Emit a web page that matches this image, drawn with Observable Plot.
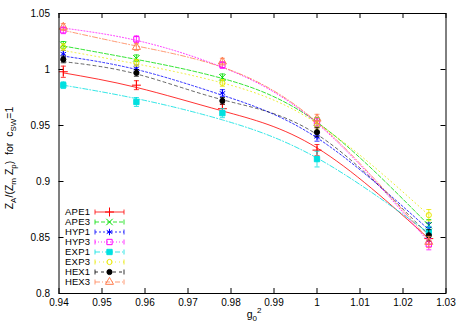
<!DOCTYPE html>
<html><head><meta charset="utf-8">
<script src="https://cdn.jsdelivr.net/npm/d3@7"></script>
<script src="https://cdn.jsdelivr.net/npm/@observablehq/plot@0.6"></script>
<style>body{margin:0;background:#fff} #c{position:relative;width:463px;height:324px}</style>
</head><body><div id="c"></div><script>
// ---- data ----
const g02 = [0.941, 0.958, 0.978, 1.0, 1.026];
const seriesNames = ["APE1","APE3","HYP1","HYP3","EXP1","EXP3","HEX1","HEX3"];
// measured points
const APE1 = [0.998, 0.986, 0.965, 0.928, 0.849];
const APE3 = [1.022, 1.010, 0.993, 0.953, 0.861];
const HYP1 = [1.014, 1.001, 0.979, 0.940, 0.858];
const HYP3 = [1.035, 1.027, 1.004, 0.952, 0.844];
const EXP1 = [0.986, 0.971, 0.961, 0.920, 0.855];
const EXP3 = [1.020, 1.006, 0.988, 0.950, 0.870];
const HEX1 = [1.009, 0.997, 0.972, 0.944, 0.852];
const HEX3 = [1.038, 1.020, 1.007, 0.956, 0.846];
// error bars
const errAPE1 = [0.005, 0.004, 0.004, 0.005, 0.005];
const errAPE3 = [0.003, 0.003, 0.003, 0.004, 0.005];
const errHYP1 = [0.003, 0.003, 0.003, 0.004, 0.005];
const errHYP3 = [0.003, 0.003, 0.003, 0.004, 0.005];
const errEXP1 = [0.003, 0.004, 0.004, 0.007, 0.005];
const errEXP3 = [0.003, 0.003, 0.003, 0.004, 0.005];
const errHEX1 = [0.003, 0.003, 0.003, 0.004, 0.005];
const errHEX3 = [0.003, 0.003, 0.003, 0.004, 0.005];
// fit curves at the same g0^2 values
const fitAPE1 = [0.997, 0.984, 0.963, 0.930, 0.849];
const fitAPE3 = [1.021, 1.009, 0.992, 0.953, 0.861];
const fitHYP1 = [1.012, 1.000, 0.977, 0.939, 0.857];
const fitHYP3 = [1.037, 1.026, 1.002, 0.952, 0.846];
const fitEXP1 = [0.986, 0.974, 0.955, 0.921, 0.854];
const fitEXP3 = [1.017, 1.005, 0.988, 0.952, 0.870];
const fitHEX1 = [1.007, 0.996, 0.973, 0.942, 0.852];
const fitHEX3 = [1.035, 1.021, 1.002, 0.953, 0.848];
const xTicks = [0.94,0.95,0.96,0.97,0.98,0.99,1.0,1.01,1.02,1.03];
const yTicks = [0.8,0.85,0.9,0.95,1.0,1.05];

const values = {APE1,APE3,HYP1,HYP3,EXP1,EXP3,HEX1,HEX3};
const errors = {APE1:errAPE1,APE3:errAPE3,HYP1:errHYP1,HYP3:errHYP3,EXP1:errEXP1,EXP3:errEXP3,HEX1:errHEX1,HEX3:errHEX3};
const fits = {APE1:fitAPE1,APE3:fitAPE3,HYP1:fitHYP1,HYP3:fitHYP3,EXP1:fitEXP1,EXP3:fitEXP3,HEX1:fitHEX1,HEX3:fitHEX3};

// ---- styles ----
const style = {
  APE1:{color:"#ff0000", symbol:"plus", filled:false, dash:null},
  APE3:{color:"#00dd00", symbol:"times", filled:false, dash:"4,2"},
  HYP1:{color:"#0000ff", symbol:"asterisk", filled:false, dash:"2,2"},
  HYP3:{color:"#ff00ff", symbol:"square", filled:false, dash:"1,2"},
  EXP1:{color:"#00e0e0", symbol:"square", filled:true, dash:"5,2,1,2"},
  EXP3:{color:"#e8e800", symbol:"circle", filled:false, dash:"1,3"},
  HEX1:{color:"#000000", symbol:"circle", filled:true, dash:"3,3"},
  HEX3:{color:"#ff7f50", symbol:"triangle", filled:false, dash:"5,2,1,2"}
};
const d3sym = {plus:d3.symbolPlus, times:d3.symbolTimes, asterisk:d3.symbolAsterisk, square:d3.symbolSquare, circle:d3.symbolCircle, triangle:d3.symbolTriangle};
const cap = {draw(ctx, size){ const r = Math.sqrt(size/Math.PI); ctx.moveTo(-r,0); ctx.lineTo(r,0); }};
const fmt = d => String(+d.toFixed(2));

const W=463, H=324, mL=58.5, mR=17.5, mT=13, mB=31;
const fw = W-mL-mR, fh = H-mT-mB;

const marks = [];
for (const s of seriesNames) {
  const st = style[s];
  const rows = g02.map((x,i)=>({x, y: fits[s][i]}));
  marks.push(Plot.line(rows, {x:"x", y:"y", curve:"natural", stroke: st.color, strokeWidth:1, strokeOpacity: s==="HEX1"?0.6:0.8, strokeDasharray: st.dash}));
}
for (const s of seriesNames) {
  const st = style[s];
  const rows = g02.map((x,i)=>({x, y: values[s][i], e: errors[s][i]}));
  marks.push(
    Plot.ruleX(rows, {x:"x", y1: d=>d.y-d.e, y2: d=>d.y+d.e, stroke: st.color, strokeWidth:1, strokeOpacity:0.8}),
    Plot.dot(rows, {x:"x", y: d=>d.y-d.e, symbol: cap, r:2.5, stroke: st.color, strokeWidth:1, strokeOpacity:0.8}),
    Plot.dot(rows, {x:"x", y: d=>d.y+d.e, symbol: cap, r:2.5, stroke: st.color, strokeWidth:1, strokeOpacity:0.8}),
    Plot.dot(rows, {x:"x", y:"y", symbol: st.symbol, r: st.symbol==="circle"?2.6:3, stroke: st.color, strokeWidth: 1, fill: st.filled ? st.color : "none"})
  );
}

const plot = Plot.plot({
  width: W, height: H,
  marginLeft: mL, marginRight: mR, marginTop: mT, marginBottom: mB,
  style: {fontFamily: "'Liberation Sans', Arial, sans-serif", fontSize: "10px", background: "#fff", color: "#000"},
  x: {domain: [0.94, 1.03], label: null},
  y: {domain: [0.8, 1.05], label: null},
  marks: [
    Plot.tickX(xTicks, {x: d=>d, insetTop: fh-5, stroke:"#000"}),
    Plot.tickX(xTicks, {x: d=>d, insetBottom: fh-5, stroke:"#000"}),
    Plot.tickY(yTicks, {y: d=>d, insetRight: fw-5, stroke:"#000"}),
    Plot.tickY(yTicks, {y: d=>d, insetLeft: fw-5, stroke:"#000"}),
    Plot.axisX({ticks: xTicks, tickSize: 0, tickPadding: 5, fontSize: 10, label: null, tickFormat: fmt}),
    Plot.axisY({ticks: yTicks, tickSize: 0, tickPadding: 9, fontSize: 10, label: null, tickFormat: fmt}),
    ...marks,
    Plot.frame({stroke: "#000", strokeWidth: 1})
  ]
});
document.getElementById("c").appendChild(plot);

// ---- axis titles and legend ----
const svg = d3.select(plot);
const ff = "'Liberation Sans', Arial, sans-serif";
const yl = svg.append("text").attr("transform", `translate(13,${mT+fh/2+5}) rotate(-90)`)
  .attr("text-anchor","middle").attr("font-family", ff).attr("font-size", 10.5).attr("fill","#000");
const ylParts = [["Z",0],["A",1],["/(Z",0],["m",1],[" Z",0],["p",1],[")  for  c",0],["SW",1],["=1",0]];
let prev = 0;
for (const [t, sub] of ylParts) {
  const dy = (sub?3:0) - prev; prev = sub?3:0;
  yl.append("tspan").attr("dy", dy).attr("font-size", sub?8:10.5).attr("xml:space","preserve").text(t);
}
const xl = svg.append("text").attr("x", mL+fw/2 + 2).attr("y", 318).attr("text-anchor","middle")
  .attr("font-family", ff).attr("font-size", 10.5).attr("fill","#000");
xl.append("tspan").text("g");
xl.append("tspan").attr("dy", 3).attr("font-size", 8).text("0");
xl.append("tspan").attr("dy", -8).attr("font-size", 8).text("2");

const lg = svg.append("g").attr("font-family", ff).attr("font-size", 9.5);
seriesNames.forEach((s, i) => {
  const st = style[s];
  const y = 212 + i*10;
  lg.append("text").attr("x", 90).attr("y", y).attr("dy","0.35em").attr("text-anchor","end").attr("fill","#000").attr("textLength", 25).text(s);
  lg.append("line").attr("x1",95).attr("x2",124).attr("y1",y).attr("y2",y).attr("stroke",st.color).attr("stroke-opacity",0.8).attr("stroke-dasharray", st.dash);
  lg.append("line").attr("x1",95).attr("x2",95).attr("y1",y-2.5).attr("y2",y+2.5).attr("stroke",st.color).attr("stroke-opacity",0.8);
  lg.append("line").attr("x1",124).attr("x2",124).attr("y1",y-2.5).attr("y2",y+2.5).attr("stroke",st.color).attr("stroke-opacity",0.8);
  const r = st.symbol==="circle"?2.6:3;
  lg.append("path").attr("transform",`translate(109.5,${y})`).attr("d", d3.symbol(d3sym[st.symbol], r*r*Math.PI)())
    .attr("stroke", st.color).attr("fill", st.filled?st.color:"none");
});
</script></body></html>
